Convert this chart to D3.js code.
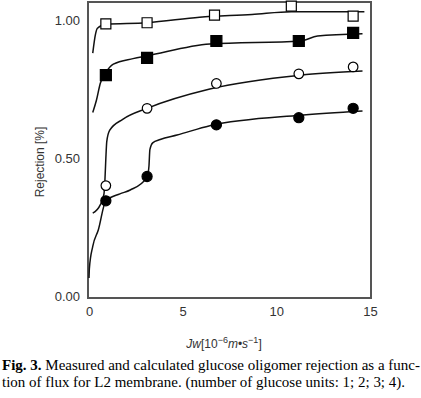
<!DOCTYPE html>
<html>
<head>
<meta charset="utf-8">
<script src="https://cdn.jsdelivr.net/npm/d3@7"></script>
<style>
  body { margin: 0; background: #fff; }
  svg { display: block; }
</style>
</head>
<body>
<div id="chart"></div>
<script>
// measured flux values (10^-6 m/s)
const jwMeasured = [0.9, 3.1, 6.8, 11.2, 14.1];
const jwMeasuredG1 = [0.9, 3.1, 6.7, 10.8, 14.1];

// measured rejection, one list per number of glucose units
const rej4 = [0.986, 0.99, 1.018, 1.05, 1.014];   // open squares
const rej3 = [0.80, 0.863, 0.924, 0.924, 0.953];  // filled squares
const rej2 = [0.40, 0.68, 0.77, 0.805, 0.83];     // open circles
const rej1 = [0.345, 0.433, 0.62, 0.646, 0.68];   // filled circles

// calculated curves
const calc4Jw = [0.2, 0.35, 0.45, 0.9, 3.1, 5.9, 8.7, 10.8, 14.7];
const calc4R  = [0.88, 0.95, 0.97, 0.985, 0.99, 1.01, 1.02, 1.03, 1.03];
const calc3Jw = [0.2, 0.4, 0.6, 0.9, 1.3, 2.35, 3.1, 6.45, 11.3, 12.2, 14.6];
const calc3R  = [0.665, 0.71, 0.77, 0.81, 0.84, 0.86, 0.87, 0.913, 0.924, 0.942, 0.95];
const calc2Jw = [0.2, 0.6, 0.8, 0.85, 0.9, 0.95, 1.1, 1.8, 3.1, 6.45, 11.3, 14.6];
const calc2R  = [0.30, 0.33, 0.37, 0.42, 0.50, 0.56, 0.60, 0.64, 0.68, 0.75, 0.80, 0.815];
const calc1Jw = [0.0, 0.02, 0.2, 0.5, 0.9, 1.65, 2.2, 3.1, 3.2, 3.25, 3.4, 3.8, 4.7, 6.45, 11.3, 14.6];
const calc1R  = [0.065, 0.10, 0.18, 0.24, 0.345, 0.37, 0.384, 0.43, 0.47, 0.53, 0.555, 0.567, 0.583, 0.617, 0.655, 0.67];

const xTicks = [0, 5, 10, 15];
const yTicks = [0, 0.5, 1.0];

const width = 421, height = 398;
const frame = { left: 88, right: 371, top: 2, bottom: 298 };

const svg = d3.select("#chart").append("svg")
    .attr("width", width)
    .attr("height", height);

const x = d3.scaleLinear().domain([0, 15]).range([89, 370]);
const y = d3.scaleLinear().domain([0, 1]).range([296, 20]);

// frame
svg.append("rect")
    .attr("x", frame.left)
    .attr("y", frame.top)
    .attr("width", frame.right - frame.left)
    .attr("height", frame.bottom - frame.top)
    .attr("fill", "none")
    .attr("stroke", "#555")
    .attr("stroke-width", 2);

// axes (labels only)
const yAxis = svg.append("g")
    .attr("transform", `translate(${frame.left},0)`)
    .call(d3.axisLeft(y).tickValues(yTicks).tickFormat(d3.format(".2f")).tickSize(0).tickPadding(8));
yAxis.select(".domain").remove();
yAxis.selectAll("text")
    .style("font-family", "'Liberation Sans', Arial, sans-serif")
    .style("font-size", "13px")
    .attr("fill", "#333");

const xAxis = svg.append("g")
    .attr("transform", `translate(0,${frame.bottom})`)
    .call(d3.axisBottom(x).tickValues(xTicks).tickSize(0).tickPadding(9));
xAxis.select(".domain").remove();
xAxis.selectAll("text")
    .style("font-family", "'Liberation Sans', Arial, sans-serif")
    .style("font-size", "13px")
    .attr("fill", "#333");

// axis titles
svg.append("text")
    .attr("transform", "translate(44,162) rotate(-90)")
    .attr("text-anchor", "middle")
    .style("font-family", "'Liberation Sans', Arial, sans-serif")
    .style("font-size", "12px")
    .attr("fill", "#333")
    .text("Rejection [%]");

const xt = svg.append("text")
    .attr("x", 224)
    .attr("y", 348)
    .attr("text-anchor", "middle")
    .style("font-family", "'Liberation Sans', Arial, sans-serif")
    .style("font-size", "12px")
    .attr("fill", "#333");
xt.append("tspan").style("font-style", "italic").text("Jw");
xt.append("tspan").text("[10");
xt.append("tspan").attr("dy", -5).style("font-size", "9px").text("\u22126");
xt.append("tspan").attr("dy", 5).style("font-style", "italic").text("m");
xt.append("tspan").text("\u2022");
xt.append("tspan").style("font-style", "italic").text("s");
xt.append("tspan").attr("dy", -5).style("font-size", "9px").text("\u22121");
xt.append("tspan").attr("dy", 5).text("]");

// calculated curves
const line = d3.line()
    .x(d => x(d[0]))
    .y(d => y(d[1]))
    .curve(d3.curveMonotoneX);

const curves = [
    [calc4Jw, calc4R],
    [calc3Jw, calc3R],
    [calc2Jw, calc2R],
    [calc1Jw, calc1R]
];
curves.forEach(c => {
    svg.append("path")
        .datum(c[0].map((v, i) => [v, c[1][i]]))
        .attr("d", line)
        .attr("fill", "none")
        .attr("stroke", "#111")
        .attr("stroke-width", 1.5);
});

// measured points
const series = [
    { jw: jwMeasuredG1, r: rej4, shape: d3.symbolSquare, size: 100, fill: "#fff" },
    { jw: jwMeasured, r: rej3, shape: d3.symbolSquare, size: 121, fill: "#000" },
    { jw: jwMeasured, r: rej2, shape: d3.symbolCircle, size: 72, fill: "#fff" },
    { jw: jwMeasured, r: rej1, shape: d3.symbolCircle, size: 80, fill: "#000" }
];
series.forEach(s => {
    svg.append("g")
        .selectAll("path")
        .data(s.jw.map((v, i) => [v, s.r[i]]))
        .enter()
        .append("path")
        .attr("transform", d => `translate(${x(d[0])},${y(d[1])})`)
        .attr("d", d3.symbol().type(s.shape).size(s.size))
        .attr("fill", s.fill)
        .attr("stroke", "#000")
        .attr("stroke-width", 1.2);
});

// caption
const cap1 = svg.append("text")
    .attr("x", 2)
    .attr("y", 370)
    .attr("textLength", 418)
    .attr("lengthAdjust", "spacingAndGlyphs")
    .style("font-family", "'Liberation Serif', 'Times New Roman', serif")
    .style("font-size", "14px")
    .attr("fill", "#000");
cap1.append("tspan").style("font-weight", "bold").text("Fig. 3.");
cap1.append("tspan").text(" Measured and calculated glucose oligomer rejection as a func-");

svg.append("text")
    .attr("x", 2)
    .attr("y", 387)
    .attr("textLength", 403)
    .attr("lengthAdjust", "spacingAndGlyphs")
    .style("font-family", "'Liberation Serif', 'Times New Roman', serif")
    .style("font-size", "14px")
    .attr("fill", "#000")
    .text("tion of flux for L2 membrane. (number of glucose units: 1; 2; 3; 4).");
</script>
</body>
</html>
